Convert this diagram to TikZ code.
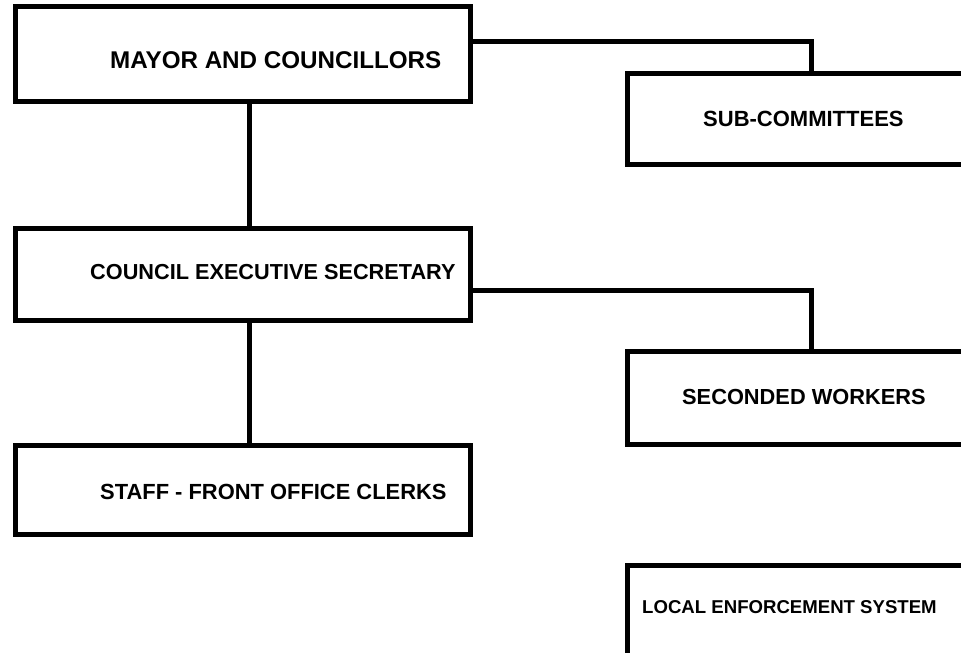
\documentclass[tikz,border=0pt]{standalone}
\usepackage{fontspec}
\setsansfont{Liberation Sans}

\begin{document}
\begin{tikzpicture}[x=1pt, y=-1pt,
	orgbox/.style={draw, line width=5pt, inner sep=0pt, outer sep=0pt, anchor=north west},
	lbl/.style={anchor=west, inner sep=0pt, font=\sffamily\bfseries\fontsize{#1}{#1}\selectfont},
	lbl/.default=22,
	link/.style={line width=5pt}]
	\useasboundingbox (0,0) rectangle (961,653);
	\clip (0,0) rectangle (961,653);
	% boxes, left column
	\node[orgbox, minimum width=455pt, minimum height=95.5pt] (mayor) at (15,6) {};
	\node[orgbox, minimum width=455pt, minimum height=92pt] (council) at (15,228) {};
	\node[orgbox, minimum width=455pt, minimum height=89pt] (staff) at (15,445) {};
	% boxes, right column (run off the page)
	\node[orgbox, minimum width=368pt, minimum height=91pt] (sub) at (627,73) {};
	\node[orgbox, minimum width=368pt, minimum height=93pt] (seconded) at (627,351) {};
	\node[orgbox, minimum width=368pt, minimum height=95pt] (local) at (627,565) {};
	% texts
	\node[lbl=24.2] (mayortxt) at (110,60) {MAYOR AND COUNCILLORS};
	\node[lbl=21.7] (counciltxt) at (90,272) {COUNCIL EXECUTIVE SECRETARY};
	\node[lbl=21.9] (stafftxt) at (100,492) {STAFF - FRONT OFFICE CLERKS};
	\node[lbl] (subtxt) at (703,119) {SUB-COMMITTEES};
	\node[lbl=21.8] (secondedtxt) at (682,397) {SECONDED WORKERS};
	\node[lbl=18.6] (localtxt) at (642,607) {LOCAL ENFORCEMENT SYSTEM};
	% connectors
	\draw[link] ([xshift=6.5pt]mayor.south) -- ([xshift=6.5pt]council.north);
	\draw[link] ([xshift=6.5pt]council.south) -- ([xshift=6.5pt]staff.north);
	\draw[link] ([yshift=12.75pt]mayor.east) -| (sub.north);
	\draw[link] ([yshift=-16pt]council.east) -| (seconded.north);
\end{tikzpicture}
\end{document}
